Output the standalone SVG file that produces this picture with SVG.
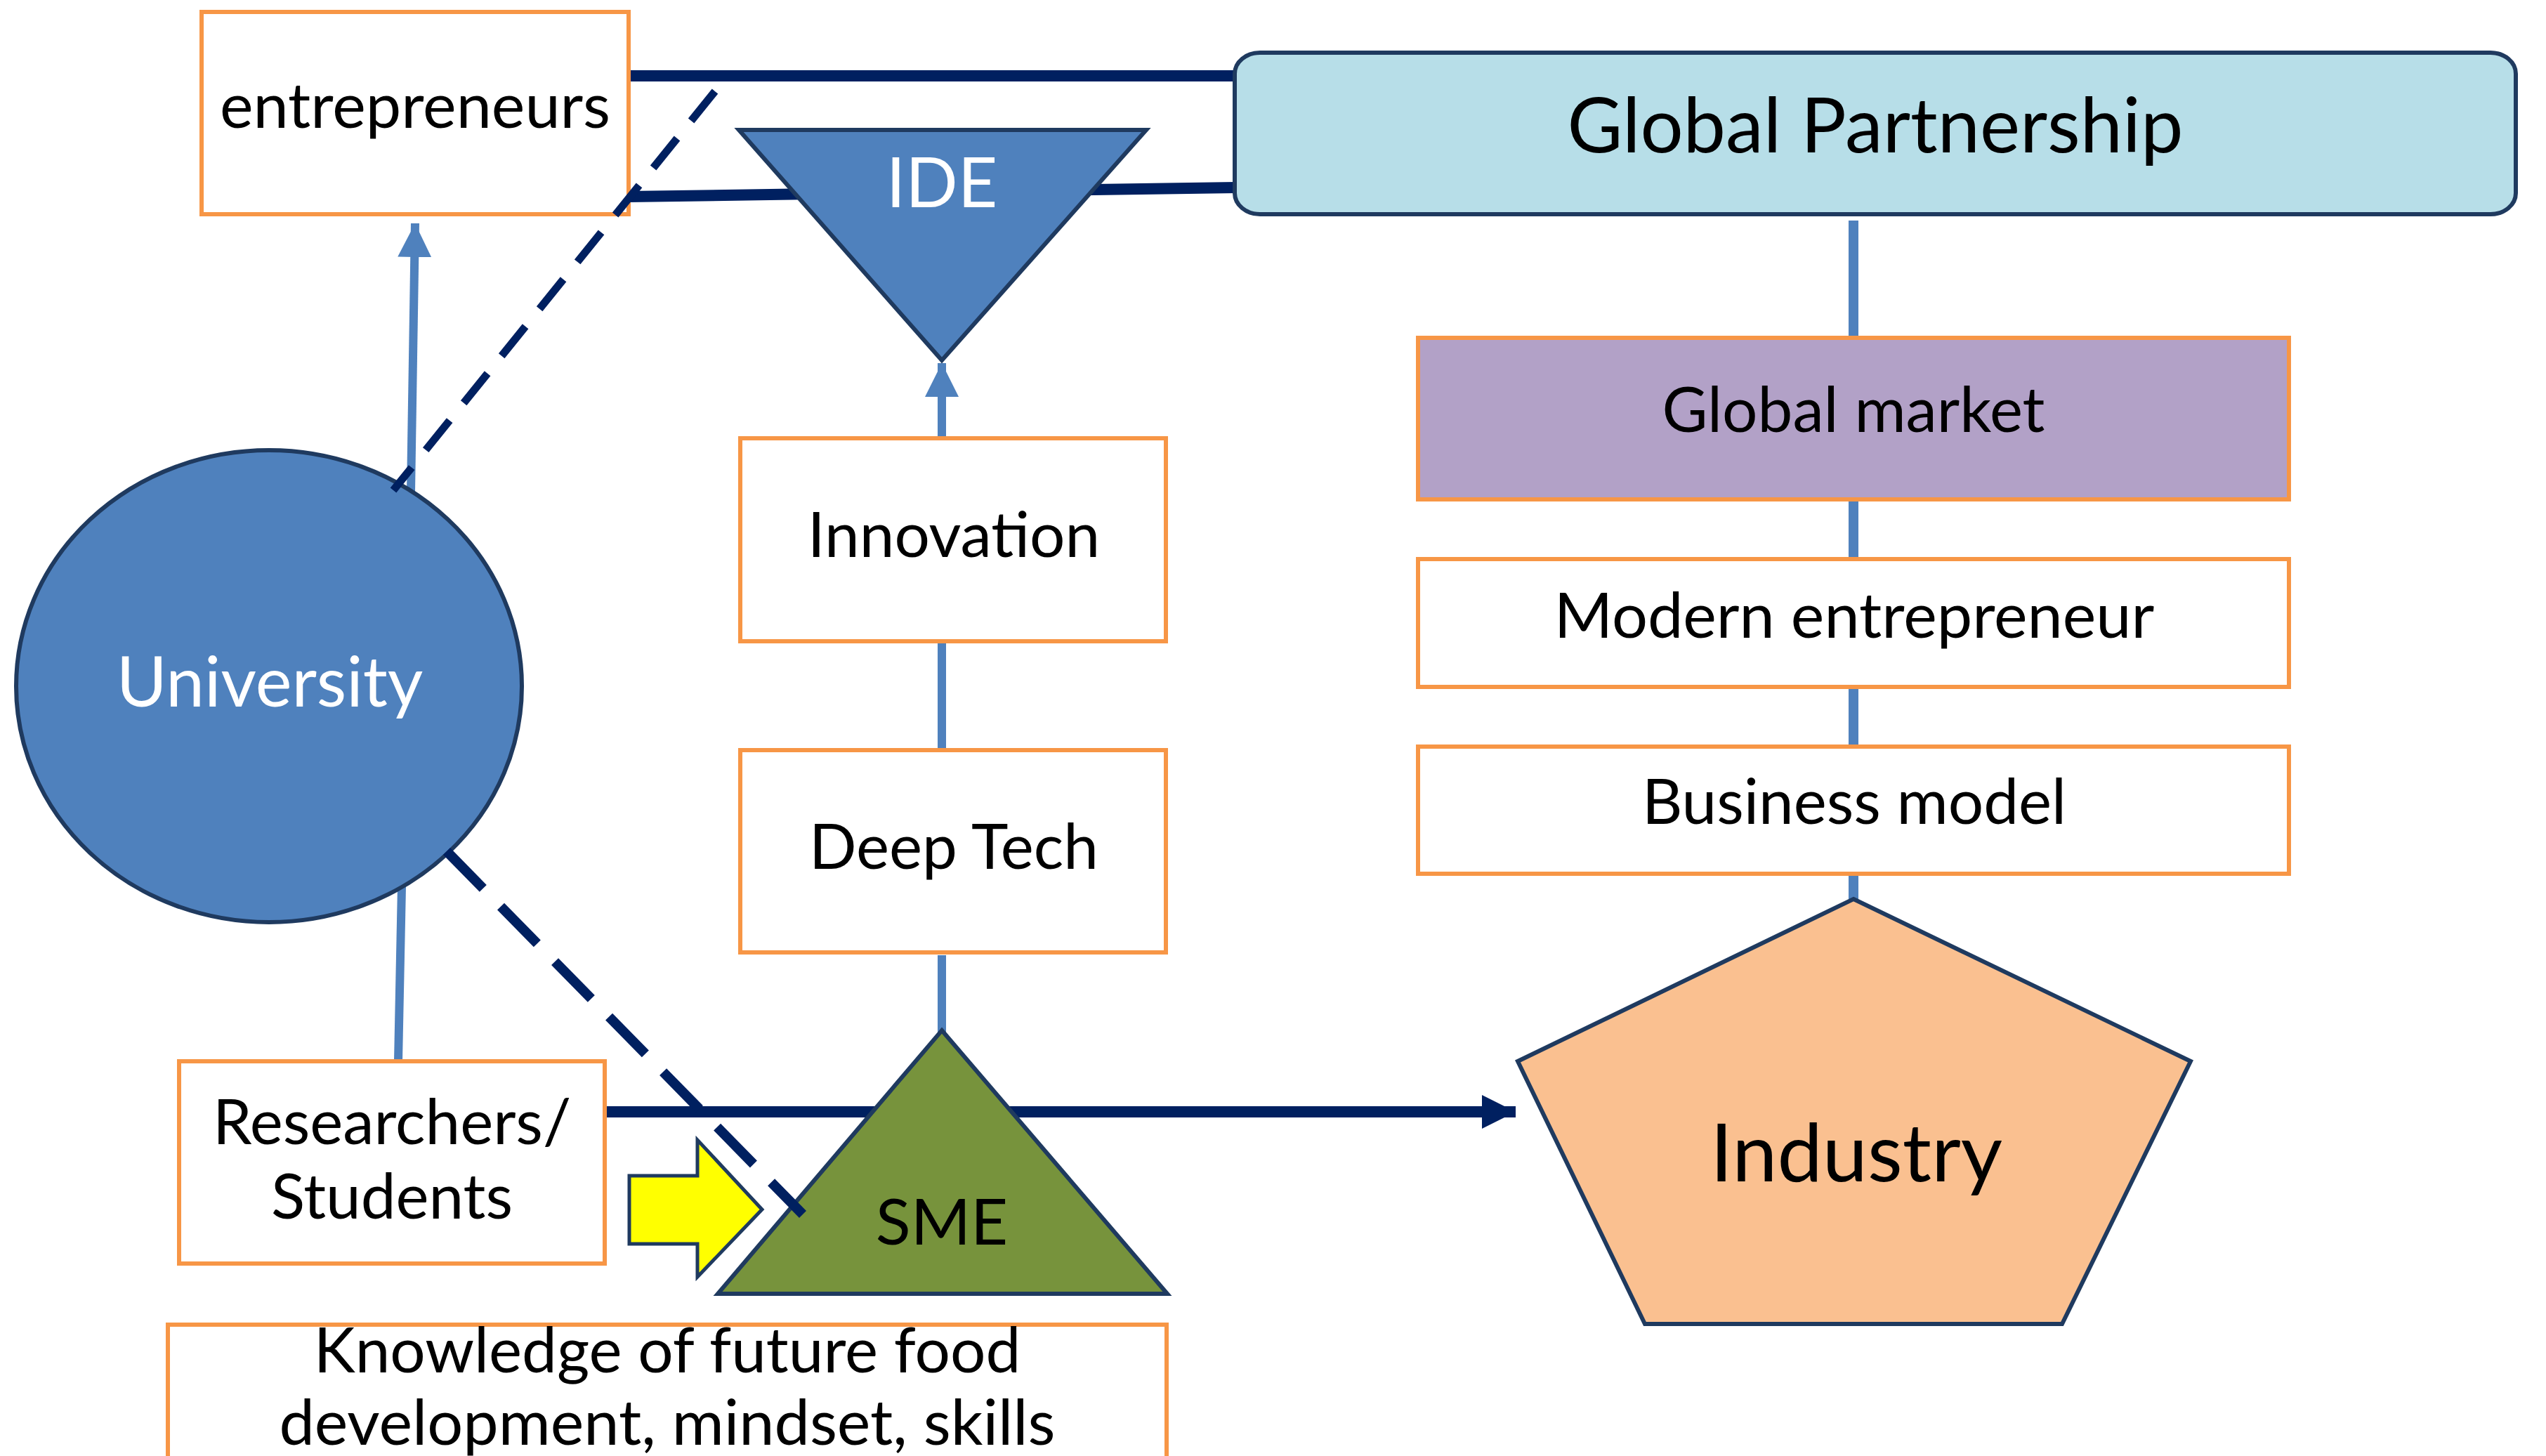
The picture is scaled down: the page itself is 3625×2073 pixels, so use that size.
<svg xmlns="http://www.w3.org/2000/svg" width="3625" height="2073" viewBox="0 0 3625 2073">
<style>
text{font-family:Lato,"Open Sans","Liberation Sans",sans-serif;text-anchor:middle;fill:#000}
.lbl{font-size:89px}
.wt{fill:#fff}
.box{fill:#fff;stroke:#F79646;stroke-width:6}
.shape{stroke:#1F3A5F;stroke-width:6;stroke-linejoin:miter}
.blue{stroke:#4F81BD;stroke-width:12;fill:none}
.navy{stroke:#002060;stroke-width:16;fill:none}
.dash{stroke:#002060;fill:none}
</style>
<defs>
<marker id="ab" viewBox="0 0 10 10" refX="10" refY="5" markerWidth="4" markerHeight="4" markerUnits="strokeWidth" orient="auto">
<path d="M0,0 L10,5 L0,10 Z" fill="#4F81BD"/>
</marker>
<marker id="an" viewBox="0 0 10 10" refX="10" refY="5" markerWidth="3" markerHeight="3.2" markerUnits="strokeWidth" orient="auto">
<path d="M0,0 L10,5 L0,10 Z" fill="#002060"/>
</marker>
</defs>
<rect width="3625" height="2073" fill="#fff"/>
<g id="connectors">
<line class="navy" x1="895" y1="108" x2="1760" y2="108"/>
<line class="navy" x1="895" y1="280" x2="1760" y2="267"/>
<line class="navy" x1="861" y1="1583" x2="2158" y2="1583" marker-end="url(#an)"/>
<line class="blue" x1="585" y1="701" x2="591" y2="318" marker-end="url(#ab)"/>
<line class="blue" x1="572" y1="1262" x2="567" y2="1511"/>
<line class="blue" x1="1341" y1="1360" x2="1341" y2="1470"/>
<line class="blue" x1="1341" y1="913" x2="1341" y2="1068"/>
<line class="blue" x1="1341" y1="624" x2="1341" y2="517" marker-end="url(#ab)"/>
<line class="blue" x1="2639" y1="314" x2="2639" y2="1282" style="stroke-width:14"/>
</g>
<g id="node-entrepreneurs">
<rect class="box" x="287" y="17" width="608" height="288"/>
<text x="591" y="182" font-size="90">entrepreneurs</text>
</g>
<g id="node-global-partnership">
<rect x="1758" y="75" width="1824" height="230" rx="36" ry="30" fill="#B7DEE8" stroke="#1F3A5F" stroke-width="6"/>
<text x="2670" y="217" font-size="108">Global Partnership</text>
</g>
<g id="node-ide">
<polygon class="shape" points="1052,185 1632,185 1341,513" fill="#4F81BD"/>
<text class="wt" x="1341" y="295" font-size="98">IDE</text>
</g>
<g id="node-innovation">
<rect class="box" x="1054" y="624" width="606" height="289"/>
<text class="lbl" x="1358" y="793">Innovation</text>
</g>
<g id="node-deep-tech">
<rect class="box" x="1054" y="1068" width="606" height="288"/>
<text class="lbl" x="1358" y="1237">Deep Tech</text>
</g>
<g id="node-global-market">
<rect x="2019" y="481" width="1240" height="230" fill="#B2A1C7" stroke="#F79646" stroke-width="6"/>
<text class="lbl" x="2639" y="615">Global market</text>
</g>
<g id="node-modern-entrepreneur">
<rect class="box" x="2019" y="796" width="1240" height="182"/>
<text x="2640" y="908" font-size="90">Modern entrepreneur</text>
</g>
<g id="node-business-model">
<rect class="box" x="2019" y="1063" width="1240" height="181"/>
<text class="lbl" x="2640" y="1173">Business model</text>
</g>
<g id="node-university">
<ellipse class="shape" cx="383" cy="977" rx="360" ry="336" fill="#4F81BD"/>
<text class="wt" x="384" y="1006" font-size="98">University</text>
</g>
<g id="node-researchers">
<rect class="box" x="255" y="1511" width="606" height="288"/>
<text class="lbl" x="558" y="1629">Researchers/</text>
<text class="lbl" x="558" y="1735">Students</text>
</g>
<g id="node-sme">
<polygon class="shape" points="1341,1467 1662,1842 1022,1842" fill="#77933C"/>
<text x="1341" y="1772" font-size="92">SME</text>
</g>
<g id="node-yellow-arrow">
<polygon points="896,1674 993,1674 993,1623 1085,1722 993,1818 993,1771 896,1771" fill="#FFFF00" stroke="#1F3A5F" stroke-width="5" stroke-linejoin="miter"/>
</g>
<g id="node-industry">
<polygon class="shape" points="2639,1280 3119,1511 2936,1885 2342,1885 2161,1511" fill="#FAC090"/>
<text x="2643" y="1682" font-size="115">Industry</text>
</g>
<g id="node-knowledge">
<rect class="box" x="239" y="1886" width="1422" height="200"/>
<text class="lbl" x="950" y="1954">Knowledge of future food</text>
<text x="950" y="2057" font-size="90">development, mindset, skills</text>
</g>
<g id="connectors-dashed">
<line class="dash" x1="1018" y1="130" x2="560" y2="698" stroke-width="11" stroke-dasharray="54 32"/>
<line class="dash" x1="636" y1="1212" x2="1143" y2="1729" stroke-width="14" stroke-dasharray="74 36"/>
</g>
</svg>
